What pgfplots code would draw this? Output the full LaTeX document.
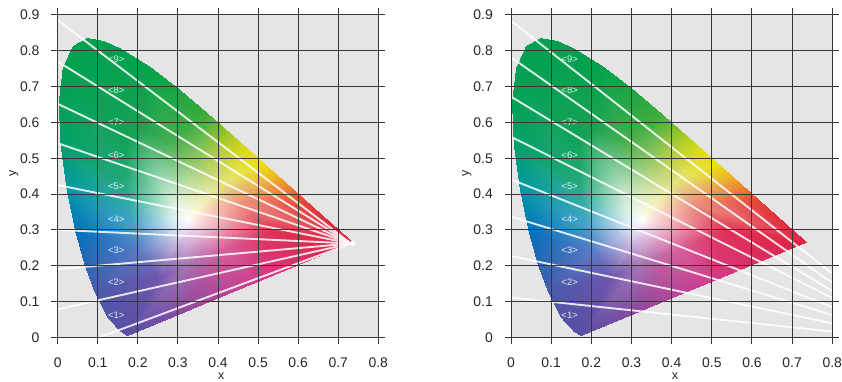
\documentclass[border=0pt]{standalone}
\usepackage{pgfplots}
\usepackage{pgfplotstable}
\pgfplotsset{compat=1.18}
\usepackage{fontspec}
\setmainfont{Liberation Sans}
\definecolor{bg}{RGB}{229,229,229}
\definecolor{gridc}{RGB}{55,55,55}

\pgfplotstableread{
x y c
0.1741 0.0050 rgb255=88,78,165
0.1566 0.0177 rgb255=86,80,166
0.1241 0.0578 rgb255=82,84,168
0.0913 0.1327 rgb255=70,92,172
0.0687 0.2007 rgb255=40,102,178
0.0454 0.2950 rgb255=0,112,186
0.0235 0.4127 rgb255=0,150,165
0.0082 0.5384 rgb255=0,160,105
0.0039 0.6548 rgb255=0,160,85
0.0139 0.7502 rgb255=0,160,80
0.0389 0.8120 rgb255=0,160,80
0.0743 0.8338 rgb255=0,160,80
0.1142 0.8262 rgb255=0,160,80
0.1547 0.8059 rgb255=0,160,78
0.2296 0.7543 rgb255=5,162,75
0.3016 0.6923 rgb255=25,165,68
0.3731 0.6245 rgb255=60,172,55
0.4087 0.5896 rgb255=125,188,40
0.4441 0.5547 rgb255=185,205,30
0.4788 0.5202 rgb255=225,220,15
0.5125 0.4866 rgb255=235,225,10
0.5448 0.4544 rgb255=236,190,25
0.5752 0.4242 rgb255=236,140,40
0.6029 0.3965 rgb255=232,90,50
0.6270 0.3725 rgb255=228,62,55
0.6658 0.3340 rgb255=225,45,60
0.7347 0.2653 rgb255=222,35,68
0.6200 0.2120 rgb255=218,45,100
0.5000 0.1560 rgb255=210,60,140
0.4000 0.1100 rgb255=175,70,155
0.3000 0.0630 rgb255=135,72,160
0.2350 0.0330 rgb255=105,76,164
0.2520 0.1675 rgb255=110,85,172
0.2107 0.2314 rgb255=95,120,195
0.1877 0.3125 rgb255=70,160,205
0.1768 0.3714 rgb255=50,170,170
0.1691 0.4342 rgb255=35,168,120
0.1720 0.5401 rgb255=20,162,88
0.2022 0.5819 rgb255=25,162,82
0.2798 0.5422 rgb255=70,175,80
0.3516 0.4773 rgb255=165,205,110
0.4044 0.4251 rgb255=228,225,135
0.4526 0.3771 rgb255=236,150,130
0.5324 0.2977 rgb255=224,50,85
0.4150 0.2430 rgb255=212,95,155
0.3150 0.1965 rgb255=165,115,182
0.3054 0.2834 rgb255=220,210,235
0.2946 0.3000 rgb255=215,222,242
0.2887 0.3211 rgb255=215,235,245
0.2858 0.3364 rgb255=212,238,235
0.2838 0.3527 rgb255=210,238,225
0.2846 0.3803 rgb255=210,236,215
0.2924 0.3911 rgb255=212,236,212
0.3126 0.3808 rgb255=225,240,210
0.3313 0.3639 rgb255=240,245,215
0.3450 0.3504 rgb255=250,246,210
0.3575 0.3379 rgb255=250,225,215
0.3783 0.3172 rgb255=245,195,205
0.3478 0.3030 rgb255=240,205,225
0.3218 0.2909 rgb255=228,205,235
0.3250 0.3250 rgb255=255,255,255
}\ciemesh

\pgfplotsset{table/row sep=crcr}

\tikzset{lbl/.style={font=\fontsize{9.5}{10}\selectfont, text=white, opacity=0.85, inner sep=0pt}}

\pgfplotsset{
  cie/.style={
    scale only axis, anchor=south west,
    width=320.6bp, height=322.3bp,
    xmin=0, xmax=0.8, ymin=0, ymax=0.9,
    xtick={0,0.1,0.2,0.3,0.4,0.5,0.6,0.7,0.8},
    xticklabels={0,0.1,0.2,0.3,0.4,0.5,0.6,0.7,0.8},
    ytick={0,0.1,0.2,0.3,0.4,0.5,0.6,0.7,0.8,0.9},
    yticklabels={0,0.1,0.2,0.3,0.4,0.5,0.6,0.7,0.8,0.9},
    grid=major,
    major grid style={draw=gridc, line width=1bp},
    axis line style={draw=gridc, line width=1bp},
    tick style={draw=gridc, line width=1bp},
    tick align=outside, major tick length=6.5bp,
    axis background/.style={fill=bg},
    axis on top,
    tick label style={font=\fontsize{14}{15}\selectfont, text=black!85},
    xticklabel style={inner sep=0pt, anchor=north, yshift=-13.5bp},
    yticklabel style={inner sep=0pt, anchor=east, xshift=-11.5bp},
    /pgf/number format/assume math mode=true,
    xlabel={x}, ylabel={y},
    label style={font=\fontsize{12.5}{13}\selectfont, text=black!85},
    xlabel style={at={(axis description cs:0.51,-0.12)}, anchor=center},
    ylabel style={at={(axis description cs:-0.137,0.51)}, anchor=center},
  },
  ciepatch/.style={
    patch, patch type=triangle, shader=interp,
    mesh/color input=explicit,
    patch table={0 1 32\\ 32 1 2\\ 32 2 3\\ 32 3 33\\ 33 3 4\\ 33 4 5\\ 33 5 34\\
34 5 6\\ 34 6 35\\ 35 6 7\\ 35 7 36\\ 36 7 8\\ 36 8 9\\ 36 9 37\\
37 9 10\\ 37 10 11\\ 37 11 38\\ 38 11 12\\ 38 12 13\\ 38 13 14\\ 38 14 39\\
39 14 15\\ 39 15 16\\ 39 16 40\\ 40 16 17\\ 40 17 18\\ 40 18 19\\ 40 19 41\\
41 19 20\\ 41 20 21\\ 41 21 22\\ 41 22 42\\ 42 22 23\\ 42 23 24\\ 42 24 25\\
42 25 26\\ 42 26 43\\ 43 26 27\\ 43 27 28\\ 43 28 44\\ 44 28 29\\ 44 29 30\\
44 30 45\\ 45 30 31\\ 45 31 0\\ 45 0 32\\
32 33 46\\ 46 33 47\\ 33 34 47\\ 47 34 48\\ 34 35 48\\ 48 35 49\\
35 36 49\\ 49 36 50\\ 36 37 50\\ 50 37 51\\ 37 38 51\\ 51 38 52\\
38 39 52\\ 52 39 53\\ 39 40 53\\ 53 40 54\\ 40 41 54\\ 54 41 55\\
41 42 55\\ 55 42 56\\ 42 43 56\\ 56 43 57\\ 43 44 57\\ 57 44 58\\
44 45 58\\ 58 45 59\\ 45 32 59\\ 59 32 46\\
46 47 60\\ 47 48 60\\ 48 49 60\\ 49 50 60\\ 50 51 60\\ 51 52 60\\ 52 53 60\\
53 54 60\\ 54 55 60\\ 55 56 60\\ 56 57 60\\ 57 58 60\\ 58 59 60\\ 59 46 60\\},
  },
  wl/.style={draw=white, line width=1.9bp, opacity=0.85},
}

\begin{document}
\begin{tikzpicture}
\useasboundingbox (0,0) rectangle (842bp,382bp);
\begin{axis}[cie, at={(57.7bp,44.7bp)}]
  \addplot[ciepatch] table[meta=c] {\ciemesh};
  \addplot[wl] coordinates {(0,0.886) (0.732,0.262)};
  \addplot[wl] coordinates {(0,0.770) (0.732,0.262)};
  \addplot[wl] coordinates {(0,0.652) (0.732,0.262)};
  \addplot[wl] coordinates {(0,0.542) (0.732,0.262)};
  \addplot[wl] coordinates {(0,0.425) (0.732,0.262)};
  \addplot[wl] coordinates {(0,0.300) (0.732,0.262)};
  \addplot[wl] coordinates {(0,0.190) (0.732,0.262)};
  \addplot[wl] coordinates {(0,0.078) (0.732,0.262)};
  \addplot[wl] coordinates {(0.105,0) (0.732,0.262)};
  \addplot[only marks, mark=*, mark size=2.5, white, opacity=0.9] coordinates {(0.736,0.262)};
  \node[lbl] at (axis cs:0.146,0.777) {<9>};
  \node[lbl] at (axis cs:0.146,0.689) {<8>};
  \node[lbl] at (axis cs:0.146,0.600) {<7>};
  \node[lbl] at (axis cs:0.146,0.509) {<6>};
  \node[lbl] at (axis cs:0.146,0.421) {<5>};
  \node[lbl] at (axis cs:0.146,0.330) {<4>};
  \node[lbl] at (axis cs:0.146,0.242) {<3>};
  \node[lbl] at (axis cs:0.146,0.153) {<2>};
  \node[lbl] at (axis cs:0.146,0.062) {<1>};
\end{axis}
\begin{axis}[cie, at={(511bp,44.7bp)}, width=321.3bp]
  \addplot[ciepatch] table[meta=c] {\ciemesh};
  \addplot[wl] coordinates {(0,0.884) (0.8,0.178)};
  \addplot[wl] coordinates {(0,0.782) (0.8,0.152)};
  \addplot[wl] coordinates {(0,0.672) (0.8,0.129)};
  \addplot[wl] coordinates {(0,0.560) (0.8,0.110)};
  \addplot[wl] coordinates {(0,0.441) (0.8,0.084)};
  \addplot[wl] coordinates {(0,0.337) (0.8,0.062)};
  \addplot[wl] coordinates {(0,0.227) (0.8,0.039)};
  \addplot[wl] coordinates {(0,0.111) (0.8,0.016)};
  \node[lbl] at (axis cs:0.146,0.777) {<9>};
  \node[lbl] at (axis cs:0.146,0.689) {<8>};
  \node[lbl] at (axis cs:0.146,0.600) {<7>};
  \node[lbl] at (axis cs:0.146,0.509) {<6>};
  \node[lbl] at (axis cs:0.146,0.421) {<5>};
  \node[lbl] at (axis cs:0.146,0.330) {<4>};
  \node[lbl] at (axis cs:0.146,0.242) {<3>};
  \node[lbl] at (axis cs:0.146,0.153) {<2>};
  \node[lbl] at (axis cs:0.146,0.062) {<1>};
\end{axis}
\end{tikzpicture}
\end{document}
